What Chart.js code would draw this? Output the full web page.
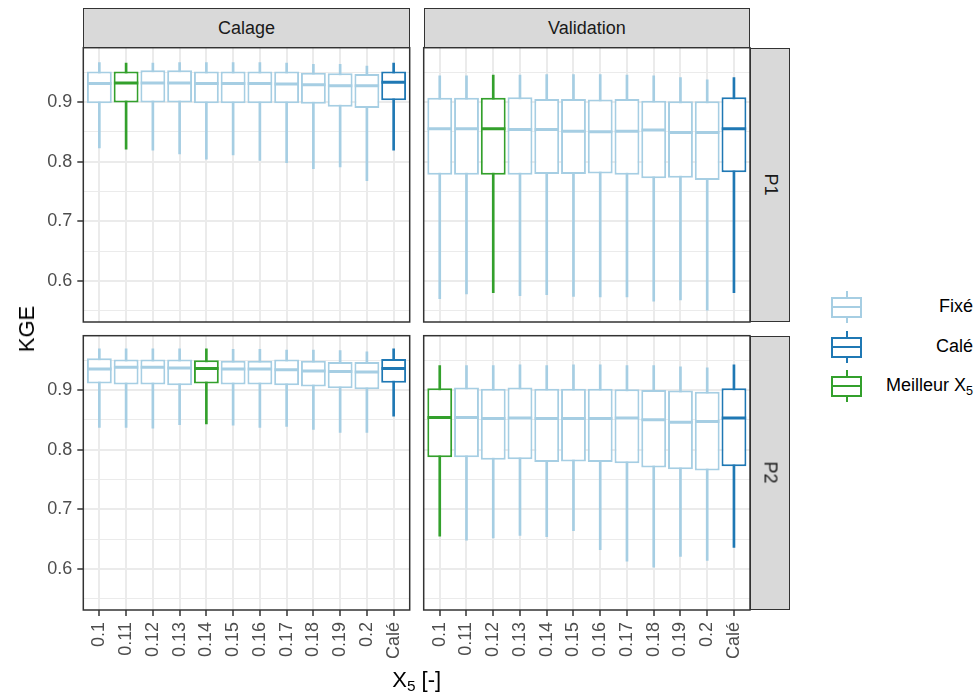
<!DOCTYPE html>
<html>
<head>
<meta charset="utf-8">
<script src="https://cdn.jsdelivr.net/npm/chart.js@4.4.1/dist/chart.umd.min.js"></script>
<style>
  body { margin: 0; background: #fff; font-family: "Liberation Sans", Arial, sans-serif; }
  #figura { position: relative; width: 978px; height: 695px; overflow: hidden; }
  canvas { position: absolute; }
  .strip { position: absolute; background: #D9D9D9; border: 1.5px solid #333; box-sizing: border-box;
           color: #1A1A1A; font-size: 18px; display: flex; align-items: center; justify-content: center; }
  .strip.v span { transform: rotate(90deg); white-space: nowrap; }
  .titulo { position: absolute; font-size: 22px; color: #000; white-space: nowrap; }
  .titulo sub, .leyenda sub { font-size: 0.7em; vertical-align: -0.3em; }
  .clave { position: absolute; left: 831px; width: 31px; height: 40px; }
  .clave .caja { position: absolute; left: 0; top: 10px; width: 31px; height: 21px; border: 2px solid; box-sizing: border-box; background: #fff; }
  .clave .med { position: absolute; left: 0; top: 19px; width: 31px; height: 2px; }
  .clave .bigote { position: absolute; left: 14.5px; top: 4px; width: 2px; height: 32px; }
  .leyenda { position: absolute; right: 5px; font-size: 18px; color: #000; white-space: nowrap; }
</style>
</head>
<body>
<div id="figura">
  <canvas id="calageP1" width="414" height="282" style="left:0px;top:44px"></canvas>
  <canvas id="validationP1" width="334" height="282" style="left:420px;top:44px"></canvas>
  <canvas id="calageP2" width="414" height="355" style="left:0px;top:332px"></canvas>
  <canvas id="validationP2" width="334" height="355" style="left:420px;top:332px"></canvas>

  <div class="strip" style="left:83.3px;top:8.3px;width:326.4px;height:40px">Calage</div>
  <div class="strip" style="left:423.7px;top:8.3px;width:326.3px;height:40px">Validation</div>
  <div class="strip v" style="left:750px;top:47.7px;width:39.5px;height:274.3px"><span>P1</span></div>
  <div class="strip v" style="left:750px;top:335.7px;width:39.5px;height:274.3px"><span>P2</span></div>

  <div class="titulo" style="left:27px;top:329px;transform:translate(-50%,-50%) rotate(-90deg)">KGE</div>
  <div class="titulo" style="left:416.7px;top:681px;transform:translate(-50%,-50%)">X<sub>5</sub> [-]</div>
  <div id="leyenda"></div>
</div>

<script>
// Categorías del eje X (valores de X5 fijados + calibrado)
const categorias = ['0.1', '0.11', '0.12', '0.13', '0.14', '0.15', '0.16', '0.17', '0.18', '0.19', '0.2', 'Calé'];

// Calage - P1
const calageP1Min = [0.823, 0.821, 0.819, 0.813, 0.804, 0.811, 0.802, 0.798, 0.788, 0.791, 0.768, 0.819];
const calageP1Q1  = [0.898, 0.899, 0.899, 0.899, 0.898, 0.898, 0.898, 0.898, 0.897, 0.892, 0.890, 0.903];
const calageP1Med = [0.931, 0.932, 0.932, 0.932, 0.931, 0.931, 0.931, 0.930, 0.929, 0.927, 0.927, 0.933];
const calageP1Q3  = [0.951, 0.951, 0.953, 0.953, 0.951, 0.951, 0.951, 0.951, 0.949, 0.948, 0.947, 0.951];
const calageP1Max = [0.966, 0.965, 0.965, 0.966, 0.966, 0.966, 0.966, 0.965, 0.963, 0.963, 0.960, 0.965];

// Validation - P1
const validationP1Min = [0.570, 0.578, 0.580, 0.575, 0.577, 0.574, 0.573, 0.573, 0.566, 0.568, 0.551, 0.580];
const validationP1Q1  = [0.778, 0.778, 0.778, 0.778, 0.779, 0.779, 0.780, 0.778, 0.772, 0.773, 0.769, 0.782];
const validationP1Med = [0.855, 0.855, 0.855, 0.854, 0.854, 0.851, 0.850, 0.851, 0.853, 0.849, 0.849, 0.855];
const validationP1Q3  = [0.907, 0.907, 0.907, 0.908, 0.905, 0.905, 0.904, 0.905, 0.902, 0.901, 0.901, 0.908];
const validationP1Max = [0.944, 0.944, 0.945, 0.945, 0.946, 0.946, 0.946, 0.945, 0.944, 0.941, 0.937, 0.941];

// Calage - P2
const calageP2Min = [0.837, 0.837, 0.836, 0.842, 0.843, 0.841, 0.837, 0.839, 0.834, 0.829, 0.829, 0.856];
const calageP2Q1  = [0.911, 0.909, 0.909, 0.908, 0.911, 0.909, 0.909, 0.908, 0.906, 0.903, 0.901, 0.912];
const calageP2Med = [0.935, 0.938, 0.938, 0.937, 0.936, 0.935, 0.935, 0.934, 0.932, 0.931, 0.930, 0.936];
const calageP2Q3  = [0.953, 0.951, 0.951, 0.951, 0.950, 0.949, 0.949, 0.951, 0.949, 0.947, 0.947, 0.952];
const calageP2Max = [0.969, 0.969, 0.969, 0.969, 0.969, 0.968, 0.968, 0.967, 0.967, 0.966, 0.964, 0.969];

// Validation - P2
const validationP2Min = [0.655, 0.648, 0.652, 0.656, 0.654, 0.664, 0.632, 0.613, 0.603, 0.621, 0.614, 0.636];
const validationP2Q1  = [0.787, 0.787, 0.783, 0.784, 0.779, 0.780, 0.779, 0.777, 0.770, 0.767, 0.765, 0.772];
const validationP2Med = [0.854, 0.854, 0.852, 0.853, 0.852, 0.852, 0.852, 0.853, 0.850, 0.846, 0.847, 0.853];
const validationP2Q3  = [0.903, 0.904, 0.902, 0.904, 0.902, 0.902, 0.902, 0.901, 0.900, 0.899, 0.897, 0.903];
const validationP2Max = [0.941, 0.941, 0.941, 0.942, 0.941, 0.942, 0.942, 0.941, 0.941, 0.939, 0.937, 0.942];

// Leyenda
const leyendaEtiquetas = ['Fixé', 'Calé', 'Meilleur X<sub>5</sub>'];

const COLORES = {
  fixe: '#A6CEE3',
  cale: '#1F78B4',
  meilleur: '#33A02C',
  grid: '#EBEBEB',
  borde: '#333333',
  texto: '#4D4D4D'
};
const leyendaColores = [COLORES.fixe, COLORES.cale, COLORES.meilleur];
const FUENTE = "'Liberation Sans', Arial, sans-serif";

// Marco del panel (theme_bw): rectángulo gris oscuro sobre el área del gráfico
const bordePanel = {
  id: 'bordePanel',
  afterDraw(chart) {
    const { ctx, chartArea: a } = chart;
    ctx.save();
    ctx.strokeStyle = COLORES.borde;
    ctx.lineWidth = 1.5;
    ctx.strokeRect(a.left, a.top, a.right - a.left, a.bottom - a.top);
    ctx.restore();
  }
};

function esMayor(valor) {
  return Math.round(valor * 100) % 10 === 0;
}

// Anula el relleno que Chart.js reserva para las etiquetas en los extremos
function sinRelleno(escala) {
  escala.paddingTop = 0;
  escala.paddingBottom = 0;
  escala.paddingLeft = 0;
  escala.paddingRight = 0;
}

/**
 * Dibuja un panel de boxplots con barras flotantes (caja y bigote) y
 * una línea horizontal (pointStyle 'line') para la mediana.
 */
function crearPanel(canvasId, serie, mejor, conEjeX, conEjeY) {
  const idx = categorias.map((_, i) => i);
  const colores = idx.map(i => i === categorias.length - 1 ? COLORES.cale : (i === mejor ? COLORES.meilleur : COLORES.fixe));

  const cajas = idx.map(i => ({ x: i, y: [serie.q1[i], serie.q3[i]] }));
  const bigotes = idx.map(i => ({ x: i, y: [serie.min[i], serie.max[i]] }));
  const medianas = idx.map(i => ({ x: i, y: serie.med[i] }));

  return new Chart(document.getElementById(canvasId), {
    type: 'bar',
    data: {
      datasets: [
        {
          type: 'scatter',
          data: medianas,
          pointStyle: 'line',
          pointRadius: 12.2,
          pointBorderWidth: 3,
          pointBorderColor: colores,
          borderColor: colores,
          order: 0
        },
        {
          data: cajas,
          backgroundColor: '#FFFFFF',
          borderColor: colores,
          borderWidth: 2,
          borderSkipped: false,
          grouped: false,
          categoryPercentage: 1,
          barPercentage: 0.93,
          order: 1
        },
        {
          data: bigotes,
          backgroundColor: colores,
          borderWidth: 0,
          barThickness: 2,
          grouped: false,
          order: 2
        }
      ]
    },
    options: {
      responsive: false,
      animation: false,
      events: [],
      layout: {
        autoPadding: false,
        padding: { top: 3.7, right: conEjeY ? 4.3 : 4, bottom: conEjeX ? 0 : 4, left: conEjeY ? 0 : 3.7 }
      },
      plugins: { legend: { display: false }, tooltip: { enabled: false } },
      scales: {
        x: {
          type: 'linear',
          min: -0.6,
          max: 11.6,
          offset: false,
          grid: {
            offset: false,
            color: COLORES.grid,
            lineWidth: 2,
            drawTicks: conEjeX,
            tickLength: 6,
            tickColor: COLORES.borde,
            tickWidth: 1.5
          },
          border: { display: false },
          ticks: {
            display: conEjeX,
            stepSize: 1,
            includeBounds: false,
            autoSkip: false,
            minRotation: 90,
            maxRotation: 90,
            padding: 6,
            color: COLORES.texto,
            font: { family: FUENTE, size: 18 },
            callback: (valor) => Number.isInteger(valor) ? categorias[valor] : ''
          },
          afterFit: (escala) => { escala.height = conEjeX ? 77 : 0; sinRelleno(escala); }
        },
        y: {
          type: 'linear',
          min: 0.531,
          max: 0.991,
          grid: {
            color: COLORES.grid,
            lineWidth: (c) => (c.tick && esMayor(c.tick.value)) ? 2 : 1,
            drawTicks: conEjeY,
            tickLength: 6,
            tickColor: (c) => (c.tick && esMayor(c.tick.value)) ? COLORES.borde : 'rgba(0,0,0,0)',
            tickWidth: 1.5
          },
          border: { display: false },
          ticks: {
            display: conEjeY,
            stepSize: 0.05,
            includeBounds: false,
            padding: 5,
            color: COLORES.texto,
            font: { family: FUENTE, size: 18 },
            callback: (valor) => esMayor(valor) ? valor.toFixed(1) : ''
          },
          afterFit: (escala) => { escala.width = conEjeY ? 83.3 : 0; sinRelleno(escala); }
        }
      }
    },
    plugins: [bordePanel]
  });
}

crearPanel('calageP1',
  { min: calageP1Min, q1: calageP1Q1, med: calageP1Med, q3: calageP1Q3, max: calageP1Max }, 1, false, true);
crearPanel('validationP1',
  { min: validationP1Min, q1: validationP1Q1, med: validationP1Med, q3: validationP1Q3, max: validationP1Max }, 2, false, false);
crearPanel('calageP2',
  { min: calageP2Min, q1: calageP2Q1, med: calageP2Med, q3: calageP2Q3, max: calageP2Max }, 4, true, true);
crearPanel('validationP2',
  { min: validationP2Min, q1: validationP2Q1, med: validationP2Med, q3: validationP2Q3, max: validationP2Max }, 0, true, false);

// Leyenda con claves de boxplot en HTML
const contLeyenda = document.getElementById('leyenda');
leyendaEtiquetas.forEach((texto, i) => {
  const centro = 307 + i * 39.5;
  const color = leyendaColores[i];
  contLeyenda.insertAdjacentHTML('beforeend', `
    <div class="clave" style="top:${centro - 20}px">
      <div class="bigote" style="background:${color}"></div>
      <div class="caja" style="border-color:${color}"></div>
      <div class="med" style="background:${color}"></div>
    </div>
    <div class="leyenda" style="top:${centro - 11}px">${texto}</div>`);
});
</script>
</body>
</html>
